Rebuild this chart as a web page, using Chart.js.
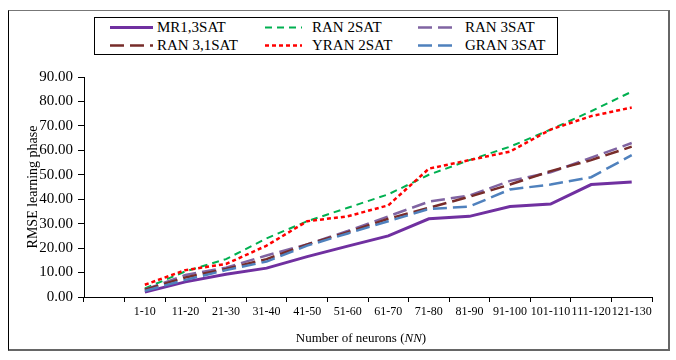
<!DOCTYPE html>
<html>
<head>
<meta charset="utf-8">
<script src="https://cdn.jsdelivr.net/npm/chart.js@4.4.1/dist/chart.umd.min.js"></script>
<style>
  body { margin: 0; background: #fff; font-family: "Liberation Serif", serif; }
  #wrap { position: relative; width: 676px; height: 360px; overflow: hidden; }
  #frame {
    position: absolute; left: 8px; top: 10px; width: 659px; height: 338px;
    border-left: 1.5px solid #000; border-top: 1.5px solid #777;
    border-right: 2px solid #666; border-bottom: 2px solid #666;
  }
  #legend {
    position: absolute; left: 94px; top: 17px; width: 462px; height: 36px;
    border: 1.5px solid #000; background: #fff;
  }
  .item { position: absolute; height: 18px; font-size: 15px; line-height: 18px; white-space: nowrap; }
  .item canvas { position: absolute; top: 0; }
  .item span { position: absolute; top: 0; }
  #xtitle { position: absolute; top: 330px; left: 0; width: 722px; text-align: center; font-size: 13px; }
  canvas#chart { position: absolute; left: 0; top: 0; }
</style>
</head>
<body>
<div id="wrap">
  <div id="frame"></div>
  <canvas id="chart" width="676" height="360"></canvas>
  <div id="legend"></div>
  <div id="xtitle">Number of neurons (<i>NN</i>)</div>
</div>
<script>
// categories (first slot is left empty like the original)
const neuronLabels = ['', '1-10', '11-20', '21-30', '31-40', '41-50', '51-60', '61-70',
    '71-80', '81-90', '91-100', '101-110', '111-120', '121-130'];

// RMSE values
const mr13sat   = [null, 2.0, 6.2, 9.3, 11.8, 16.5, 20.8, 25.0, 32.0, 33.0, 37.0, 38.0, 46.0, 47.0];
const ran2sat   = [null, 3.5, 10.5, 15.5, 24.0, 31.0, 36.5, 42.0, 50.0, 56.0, 61.5, 68.5, 76.0, 84.0];
const ran3sat   = [null, 3.0, 9.0, 12.0, 17.0, 21.5, 27.0, 33.0, 39.0, 41.5, 47.5, 51.0, 57.0, 63.0];
const ran31sat  = [null, 3.0, 8.0, 11.5, 15.5, 21.5, 26.5, 32.0, 36.5, 41.0, 46.0, 51.5, 56.0, 61.5];
const yran2sat  = [null, 5.0, 11.0, 13.5, 21.0, 31.0, 33.0, 37.5, 52.5, 56.0, 59.5, 68.5, 74.0, 77.5];
const gran3sat  = [null, 2.5, 7.0, 11.0, 14.5, 21.0, 26.0, 31.0, 36.0, 37.0, 44.0, 46.0, 49.0, 58.0];

const yTicks = [0, 10, 20, 30, 40, 50, 60, 70, 80, 90];

const series = [
    { label: 'MR1,3SAT',   data: mr13sat,  color: '#7030A0', width: 3,   dash: [] },
    { label: 'RAN 2SAT',   data: ran2sat,  color: '#00B050', width: 2,   dash: [7, 5] },
    { label: 'RAN 3SAT',   data: ran3sat,  color: '#8064A2', width: 2.5, dash: [14, 6] },
    { label: 'RAN 3,1SAT', data: ran31sat, color: '#772C2A', width: 2.5, dash: [14, 6] },
    { label: 'YRAN 2SAT',  data: yran2sat, color: '#FF0000', width: 2.5, dash: [4, 3] },
    { label: 'GRAN 3SAT',  data: gran3sat, color: '#4F81BD', width: 2.5, dash: [14, 6] }
];

// legend built by hand so it keeps the 3 x 2 grid
const legendPos = [
    { x: 15, y: 0, line: 43, gap: 4 },
    { x: 170, y: 0, line: 37, gap: 10 },
    { x: 323, y: 0, line: 40, gap: 7 },
    { x: 15, y: 18, line: 43, gap: 4 },
    { x: 170, y: 18, line: 37, gap: 10 },
    { x: 323, y: 18, line: 40, gap: 7 }
];
const legend = document.getElementById('legend');
series.forEach((s, i) => {
    const p = legendPos[i];
    const item = document.createElement('div');
    item.className = 'item';
    item.style.left = p.x + 'px';
    item.style.top = p.y + 'px';
    const c = document.createElement('canvas');
    c.width = p.line; c.height = 18;
    const g = c.getContext('2d');
    g.strokeStyle = s.color; g.lineWidth = s.width;
    g.setLineDash(s.dash);
    g.beginPath(); g.moveTo(0, 9.5); g.lineTo(p.line, 9.5); g.stroke();
    item.appendChild(c);
    const t = document.createElement('span');
    t.textContent = s.label;
    t.style.left = (p.line + p.gap) + 'px';
    item.appendChild(t);
    legend.appendChild(item);
});

const ctx = document.getElementById('chart').getContext('2d');
new Chart(ctx, {
    type: 'line',
    data: {
        labels: neuronLabels,
        datasets: series.map((s, i) => ({
            label: s.label,
            data: s.data,
            borderColor: s.color,
            backgroundColor: s.color,
            borderWidth: s.width,
            borderDash: s.dash,
            pointRadius: 0,
            tension: 0,
            fill: false,
            order: series.length - i
        }))
    },
    options: {
        responsive: false,
        animation: false,
        layout: { padding: { top: 77, right: 24, left: 0, bottom: 0 } },
        plugins: { legend: { display: false }, tooltip: { enabled: false } },
        scales: {
            x: {
                offset: true,
                grid: { offset: true, drawOnChartArea: false, tickLength: 5, color: '#000' },
                border: { color: '#000', width: 1 },
                ticks: {
                    color: '#000', font: { family: 'Liberation Serif', size: 12 },
                    maxRotation: 0, autoSkip: false, padding: 3
                },
                afterFit: (s) => { s.height = 63; }
            },
            y: {
                min: 0,
                max: 90,
                afterBuildTicks: (s) => { s.ticks = yTicks.map(v => ({ value: v })); },
                grid: { drawOnChartArea: false, tickLength: 6, color: '#000' },
                border: { color: '#000', width: 1 },
                ticks: {
                    color: '#000', font: { family: 'Liberation Serif', size: 15 }, padding: 5,
                    callback: (v) => Number(v).toFixed(2)
                },
                title: {
                    display: true, text: 'RMSE learning phase', color: '#000',
                    font: { family: 'Liberation Serif', size: 14 }, padding: { top: 25, bottom: 0 }
                },
                afterFit: (s) => { s.width = 84; }
            }
        }
    }
});
</script>
</body>
</html>
